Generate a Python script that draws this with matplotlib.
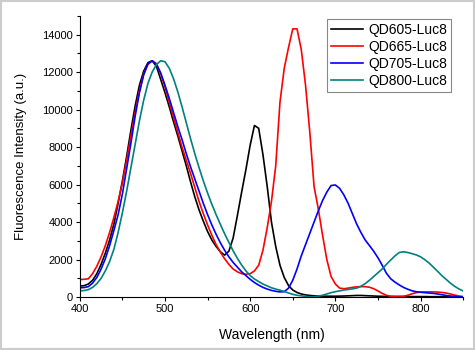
import numpy as np
import matplotlib.pyplot as plt
from matplotlib.patches import Rectangle
from matplotlib.ticker import MultipleLocator

plt.rcParams['font.family'] = ['Liberation Sans', 'DejaVu Sans']

# wavelength grid (nm), 5 nm steps
wavelength = np.arange(400, 851, 5)

qd605 = [600, 610, 700, 900, 1250, 1750, 2350, 3050, 3900, 5000,
         6200, 7500, 8900, 10200, 11300, 12050, 12500, 12600, 12300, 11600,
         10900, 10150, 9350, 8600, 7800, 7000, 6150, 5350, 4650, 4050,
         3500, 3050, 2700, 2420, 2240, 2450, 3150, 4350, 5600, 6800,
         8100, 9150, 9000, 7600, 5900, 4000, 2700, 1700, 1050, 620,
         380, 250, 170, 120, 90, 70, 60, 55, 50, 50,
         50, 55, 60, 70, 80, 90, 90, 80, 70, 60,
         50, 45, 40, 40, 40, 40, 35, 35, 30, 30,
         30, 30, 25, 25, 25, 20, 20, 20, 20, 20, 20]

qd665 = [940, 950, 980, 1250, 1650, 2150, 2750, 3450, 4250, 5100,
         6100, 7300, 8600, 9850, 11000, 11900, 12400, 12600, 12450, 11900,
         11200, 10400, 9600, 8800, 8000, 7300, 6600, 5850, 5100, 4450,
         3850, 3300, 2800, 2400, 2050, 1750, 1500, 1350, 1250, 1220,
         1250, 1400, 1700, 2500, 3700, 5100, 7000, 10400, 12200, 13300,
         14300, 14300, 13200, 11300, 8800, 5900, 4700, 3300, 2000, 1100,
         700, 480, 450, 480, 520, 550, 560, 560, 530, 450,
         330, 200, 100, 40, 20, 20, 40, 100, 180, 240,
         270, 280, 280, 280, 270, 250, 220, 170, 110, 60, 30]

qd705 = [500, 510, 560, 750, 1050, 1500, 2050, 2750, 3550, 4400,
         5500, 6850, 8200, 9650, 10900, 11850, 12450, 12600, 12400, 11950,
         11300, 10600, 9850, 9100, 8400, 7650, 6950, 6300, 5650, 5000,
         4400, 3850, 3350, 2900, 2500, 2150, 1850, 1600, 1350, 1150,
         950, 780, 640, 520, 430, 360, 310, 280, 290, 480,
         900, 1500, 2200, 2800, 3400, 4000, 4600, 5150, 5600, 5950,
         5980, 5800, 5450, 5000, 4450, 3900, 3450, 3050, 2750, 2450,
         2100, 1700, 1270, 980, 800, 650, 520, 420, 340, 290,
         260, 240, 220, 200, 170, 130, 90, 60, 40, 20, 10]

qd800 = [340, 350, 400, 520, 720, 1000, 1400, 1900, 2550, 3450,
         4500, 5650, 6900, 8150, 9400, 10500, 11400, 12000, 12400, 12600,
         12550, 12200, 11650, 10950, 10150, 9300, 8450, 7650, 6900, 6200,
         5550, 4950, 4400, 3880, 3380, 2920, 2470, 2070, 1710, 1400,
         1150, 970, 830, 700, 600, 500, 430, 370, 300, 220,
         150, 100, 70, 40, 20, 20, 60, 100, 170, 240,
         290, 335, 380, 410, 440, 480, 580, 720, 900, 1100,
         1300, 1500, 1750, 1980, 2200, 2380, 2420, 2380, 2320, 2250,
         2150, 2000, 1820, 1600, 1380, 1150, 950, 750, 580, 440, 330]

labels = ['QD605-Luc8', 'QD665-Luc8', 'QD705-Luc8', 'QD800-Luc8']
colors = ['black', '#ff0000', '#0000ff', '#008080']

fig = plt.figure(figsize=(4.75, 3.5), dpi=100)
ax = fig.add_axes([0.168, 0.151, 0.807, 0.804])

for y, lab, c in zip([qd605, qd665, qd705, qd800], labels, colors):
    ax.plot(wavelength, y, color=c, lw=1.2, label=lab)

ax.set_xlim(400, 850)
ax.set_ylim(0, 15000)
ax.xaxis.set_major_locator(MultipleLocator(100))
ax.xaxis.set_minor_locator(MultipleLocator(50))
ax.yaxis.set_major_locator(MultipleLocator(2000))
ax.yaxis.set_minor_locator(MultipleLocator(1000))
ax.spines['top'].set_visible(False)
ax.spines['right'].set_visible(False)
ax.tick_params(which='major', direction='out', length=3, width=0.8, labelsize=8, pad=2)
ax.tick_params(which='minor', direction='out', length=2, width=0.8)
ax.set_xlabel('Wavelength (nm)', fontsize=10, labelpad=10)
ax.set_ylabel('Fluorescence Intensity (a.u.)', fontsize=9.5, labelpad=11)

leg = ax.legend(loc='upper right', bbox_to_anchor=(0.969, 0.988), borderaxespad=0,
                fontsize=10, handlelength=2.3, labelspacing=0.2, handletextpad=0.4,
                borderpad=0.3, fancybox=False, framealpha=1)
leg.get_frame().set_edgecolor('#888888')
leg.get_frame().set_linewidth(0.8)

# light grey border round the picture
fig.patches.append(Rectangle((0.002, 0.003), 0.996, 0.994, transform=fig.transFigure,
                             fill=False, edgecolor='#cccccc', lw=1.5))

fig.savefig('out.png', dpi=100)
